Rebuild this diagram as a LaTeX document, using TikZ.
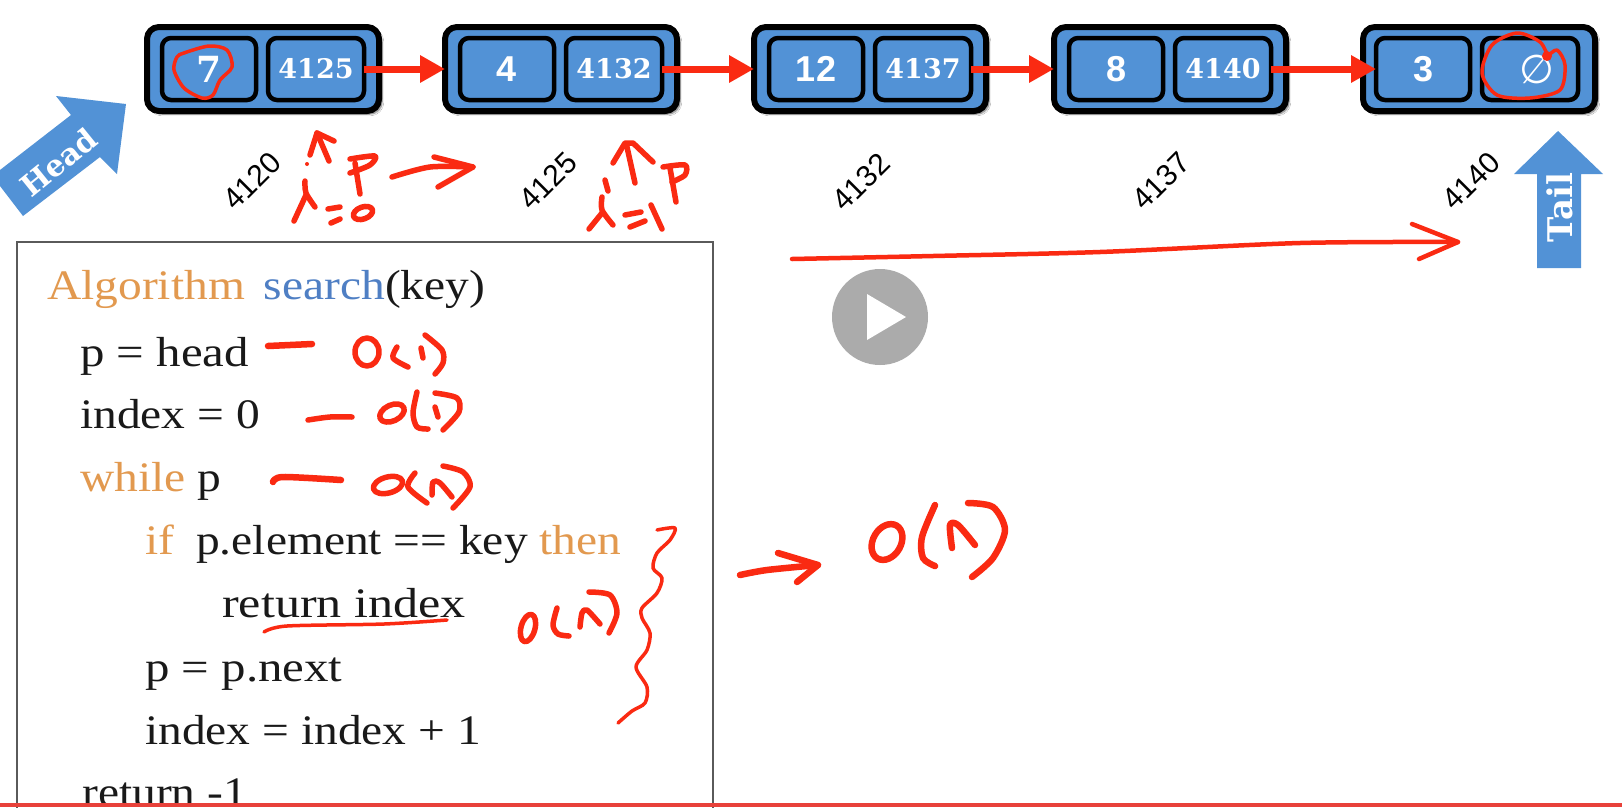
\documentclass[tikz,border=0pt]{standalone}
\usepackage{fontspec}
\usepackage{xcolor}
\usepackage{tikz}
\usetikzlibrary{arrows.meta,positioning,shadows.blur}
\setmainfont{Liberation Serif}
\newfontfamily\codefont[FakeStretch=1.13]{Liberation Serif}
\newfontfamily\cellfont{DejaVu Serif}
\newfontfamily\valfont{Liberation Sans}
\newfontfamily\symfont{DejaVu Sans}
\definecolor{cellblue}{HTML}{5292D6}
\definecolor{inkred}{HTML}{FA2A12}
\definecolor{kworange}{HTML}{E2994F}
\definecolor{fnblue}{HTML}{4F7FC4}
\definecolor{framegray}{HTML}{5A5A5A}
\definecolor{barred}{HTML}{E8413A}
\definecolor{playgray}{HTML}{ABABAB}

\begin{document}
\begin{tikzpicture}[
  x=1pt,y=-1pt,
  listnode/.style={draw=black,line width=6pt,rounded corners=12pt,fill=cellblue,
                   minimum width=232pt,minimum height=84pt,outer sep=0pt,anchor=west,
                   blur shadow={shadow xshift=3pt,shadow yshift=-3pt,shadow blur steps=6,shadow opacity=60}},
  valcell/.style={draw=black,line width=4.5pt,rounded corners=9pt,fill=cellblue,text=white,
                  minimum width=94pt,minimum height=62pt,outer sep=0pt,inner sep=0pt,anchor=west,
                  font=\valfont\bfseries\fontsize{36}{38}\selectfont},
  ptrcell/.style={valcell,minimum width=96pt,font=\cellfont\bfseries\fontsize{27}{30}\selectfont},
  addr/.style={rotate=45,font=\valfont\fontsize{30}{32}\selectfont,text=black},
  codeline/.style={anchor=base west,inner sep=0pt,font=\codefont\fontsize{42}{48}\selectfont,text=black!90},
  link/.style={-{Triangle[length=25pt,width=26pt]},line width=7pt,inkred},
  ink/.style={draw=inkred,line width=5.5pt,line cap=round,line join=round},
  thinink/.style={draw=inkred,line width=3.5pt,line cap=round,line join=round},
  headlabel/.style={text=white,font=\cellfont\bfseries\fontsize{30}{32}\selectfont}
]
\useasboundingbox (0,0) rectangle (1622,807);
\fill[white] (0,0) rectangle (1622,807);

\node[listnode] (node1) at (147,69) {};
\node[listnode,right=66pt of node1] (node2) {};
\node[listnode,right=77pt of node2] (node3) {};
\node[listnode,right=68pt of node3] (node4) {};
\node[listnode,right=77pt of node4] (node5) {};

\node[valcell,xshift=15pt] (val1) at (node1.west) {\cellfont 7};
\node[ptrcell,right=12pt of val1] (ptr1) {4125};
\node[valcell,xshift=15pt] (val2) at (node2.west) {4};
\node[ptrcell,right=12pt of val2] (ptr2) {4132};
\node[valcell,xshift=15pt] (val3) at (node3.west) {12};
\node[ptrcell,right=12pt of val3] (ptr3) {4137};
\node[valcell,xshift=15pt] (val4) at (node4.west) {8};
\node[ptrcell,right=12pt of val4] (ptr4) {4140};
\node[valcell,xshift=13pt] (val5) at (node5.west) {3};
\node[ptrcell,right=12pt of val5,font=\symfont\fontsize{40}{42}\selectfont] (ptr5) {\hspace*{14pt}∅};

\draw[link] (ptr1.east) -- (node2.west);
\draw[link] (ptr2.east) -- (node3.west);
\draw[link] (ptr3.east) -- (node4.west);
\draw[link] (ptr4.east) -- (val5.west);

\node[addr] (addr1) at (252,181) {4120};
\node[addr] (addr2) at (548,181) {4125};
\node[addr] (addr3) at (861,182) {4132};
\node[addr] (addr4) at (1161,181) {4137};
\node[addr] (addr5) at (1471,181) {4140};

\fill[cellblue] (126,104) -- (56,96) -- (71,115) -- (0,170) -- (0,186) -- (23,216) -- (100,157) -- (117,174) -- cycle;
\node[headlabel,rotate=39] (headtext) at (59,162) {Head};
\fill[cellblue] (1558,131) -- (1514,174) -- (1537,174) -- (1537,268) -- (1581,268) -- (1581,174) -- (1603,174) -- cycle;
\node[headlabel,rotate=90,font=\cellfont\bfseries\fontsize{34}{36}\selectfont] (tailtext) at (1560,208) {Tail};

\node[draw=framegray,line width=2pt,anchor=north west,minimum width=696pt,minimum height=570pt] (codebox) at (16,241) {};
\node[codeline] (line1) at (47,299) {\textcolor{kworange}{Algorithm}\hspace{19pt}\textcolor{fnblue}{search}(key)};
\node[codeline,xscale=1.03] (line2) at (80,366) {p = head};
\node[codeline] (line3) at (80,428) {index = 0};
\node[codeline] (line4) at (80,491) {\textcolor{kworange}{while} p};
\node[codeline] (line5) at (145,554) {\textcolor{kworange}{if}\hspace{22pt}p.element == key \textcolor{kworange}{then}};
\node[codeline,xscale=1.055] (line6) at (222,617) {return index};
\node[codeline,xscale=1.03] (line7) at (145,681) {p = p.next};
\node[codeline] (line8) at (145,744) {index = index + 1};
\node[codeline] (line9) at (82,806) {return -1};
\fill[barred] (0,803) rectangle (1622,807);

\node[circle,fill=playgray,minimum size=96pt,inner sep=0pt] (play) at (880,317) {};
\fill[white] (867,294) -- (906,317) -- (867,340) -- cycle;

\draw[thinink] plot[smooth cycle] coordinates {(184,53) (209,46) (227,50) (232,67) (220,80) (213,95) (202,98) (184,88) (174,70) (177,57)};
\draw[thinink] plot[smooth] coordinates {(1547,57) (1557,50) (1565,65) (1560,90) (1530,98) (1497,95) (1482,73) (1492,45) (1517,33) (1540,42) (1548,57)};
\fill[inkred] (1547,56) circle (5pt);

\draw[ink] (310,155) -- (317,133) -- (334,141);
\draw[ink] (317,133) -- (329,161);
\fill[inkred] (307,164) circle (2pt);
\draw[ink] plot[smooth] coordinates {(305,181) (306,193) (315,207)};
\draw[ink] (306,195) -- (294,221);
\draw[ink] (355,163) -- (360,194);
\draw[ink] plot[smooth] coordinates {(350,159) (375,156) (370,165) (350,173)};
\draw[ink] (328,209) -- (340,207);
\draw[ink] (331,223) -- (340,219);
\draw[ink] (363,213) ellipse [x radius=10pt,y radius=6pt,rotate=20];
\draw[ink] plot[smooth] coordinates {(392,177) (430,167) (473,167)};
\draw[ink] (434,157) -- (473,167) -- (438,187);

\draw[ink] (613,163) -- (625,143) -- (633,143) -- (653,162);
\draw[ink] (627,147) -- (635,183);
\draw[ink] (605,180) -- (608,191);
\draw[ink] plot[smooth] coordinates {(602,197) (602,210) (613,225)};
\draw[ink] (602,213) -- (589,229);
\draw[ink] (625,215) -- (641,212);
\draw[ink] (630,227) -- (645,221);
\draw[ink] (651,205) -- (662,229);
\draw[ink] (670,168) -- (676,202);
\draw[ink] plot[smooth] coordinates {(663,167) (685,165) (685,175) (672,182)};

\draw[ink,line width=4.5pt] plot[smooth] coordinates {(792,259) (933,256) (1100,252) (1300,243) (1458,242)};
\draw[ink,line width=4.5pt] (1412,224) -- (1458,242) -- (1419,259);

\draw[ink,line width=6.5pt] (268,346) -- (312,344);
\draw[ink] (367,352) ellipse [x radius=12pt,y radius=14pt];
\draw[ink] plot[smooth] coordinates {(397,347) (393,358) (408,367)};
\draw[ink] (421,348) -- (423,358);
\draw[ink] plot[smooth] coordinates {(425,335) (442,350) (443,363) (435,374)};

\draw[ink] plot[smooth] coordinates {(308,420) (330,417) (352,417)};
\draw[ink] (392,413) ellipse [x radius=13pt,y radius=8pt,rotate=25];
\draw[ink] plot[smooth] coordinates {(417,392) (413,413) (417,427) (428,429)};
\draw[ink] (435,407) -- (438,417);
\draw[ink] plot[smooth] coordinates {(435,393) (457,398) (459,412) (443,430)};

\draw[ink,line width=6.5pt] plot[smooth] coordinates {(273,482) (283,477) (341,480)};
\draw[ink] (388,485) ellipse [x radius=15pt,y radius=8pt,rotate=15];
\draw[ink] plot[smooth] coordinates {(415,473) (408,487) (427,503)};
\draw[ink] plot[smooth] coordinates {(432,495) (433,482) (440,483) (452,497)};
\draw[ink] plot[smooth] coordinates {(443,466) (463,472) (470,487) (453,508)};

\draw[thinink] plot[smooth] coordinates {(264,632) (287,626) (384,624) (447,620)};

\draw[thinink] plot[smooth] coordinates {(657,530) (675,528) (670,540) (657,553) (653,568) (662,578) (657,593) (642,608) (642,618) (650,633) (647,650) (636,667) (647,687) (645,703) (632,711) (618,723)};
\draw[ink] (528,628) ellipse [x radius=7pt,y radius=14pt,rotate=-15];
\draw[ink] plot[smooth] coordinates {(557,608) (553,625) (558,634) (569,636)};
\draw[ink] plot[smooth] coordinates {(580,627) (582,613) (587,610) (600,624)};
\draw[ink] plot[smooth] coordinates {(589,592) (610,595) (617,613) (609,633)};

\draw[ink,line width=6.5pt] plot[smooth] coordinates {(740,575) (767,570) (818,565)};
\draw[ink,line width=6.5pt] (778,553) -- (818,565) -- (797,582);
\draw[ink,line width=6.5pt] (887,542) ellipse [x radius=14pt,y radius=19pt,rotate=-30];
\draw[ink,line width=6.5pt] plot[smooth] coordinates {(935,505) (922,537) (923,558) (935,566)};
\draw[ink,line width=6.5pt] plot[smooth] coordinates {(952,548) (950,525) (958,525) (975,545)};
\draw[ink,line width=6.5pt] plot[smooth] coordinates {(968,503) (993,507) (1005,530) (993,558) (972,577)};
\end{tikzpicture}
\end{document}
